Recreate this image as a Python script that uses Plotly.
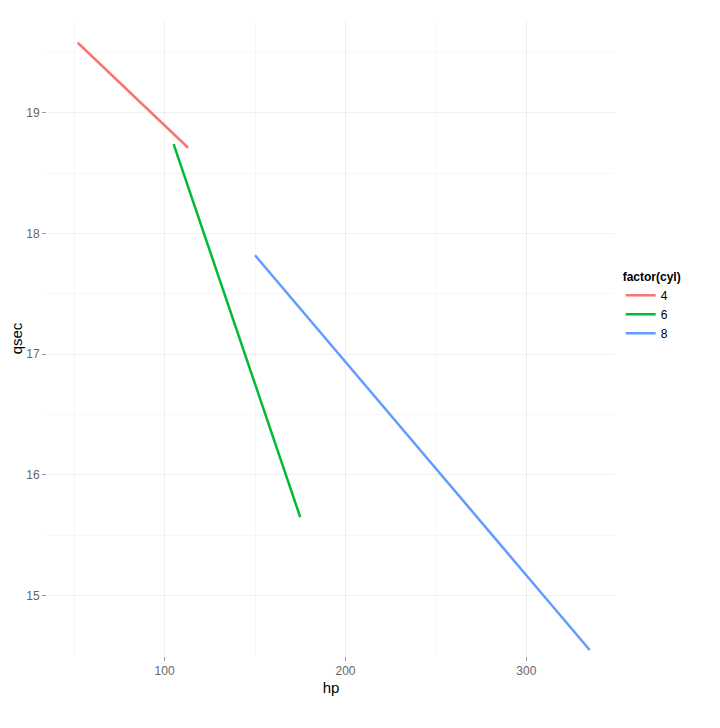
import plotly.graph_objects as go

groups = ['4', '6', '8']
colors = ['#F8766D', '#00BA38', '#619CFF']
hp_vals = [[52, 113], [105, 175], [150, 335]]
qsec_vals = [[19.58, 18.71], [18.74, 15.65], [17.82, 14.55]]

fig = go.Figure()
for g, c, x, y in zip(groups, colors, hp_vals, qsec_vals):
    fig.add_trace(go.Scatter(x=x, y=y, mode='lines', name=g,
                             line=dict(color=c, width=2.5)))

grid = 'rgba(0,0,0,0.06)'
fig.update_layout(
    width=720, height=728,
    plot_bgcolor='white', paper_bgcolor='white',
    font=dict(family='Liberation Sans, Arial', size=12, color='#666'),
    margin=dict(l=39, r=113, t=13, b=80),
    legend=dict(title=dict(text='<b>factor(cyl)</b>', font=dict(color='black', size=12)),
                x=1.01, y=0.55, yanchor='middle', font=dict(color='black', size=12)),
    xaxis=dict(range=[35, 349], title=dict(text='hp', font=dict(color='black', size=15), standoff=5),
               tickvals=[100, 200, 300], gridcolor=grid, zeroline=False, automargin=False,
               ticks='outside', tickcolor='#999', ticklen=4,
               minor=dict(tickvals=[50, 150, 250], gridcolor='rgba(0,0,0,0.03)', showgrid=True)),
    yaxis=dict(range=[14.5, 19.76], title=dict(text='qsec', font=dict(color='black', size=15), standoff=5),
               tickvals=[15, 16, 17, 18, 19], gridcolor=grid, zeroline=False, automargin=False,
               ticks='outside', tickcolor='#999', ticklen=4,
               minor=dict(tickvals=[14.5, 15.5, 16.5, 17.5, 18.5, 19.5], gridcolor='rgba(0,0,0,0.03)', showgrid=True)),
)

fig.write_html("out.html")
